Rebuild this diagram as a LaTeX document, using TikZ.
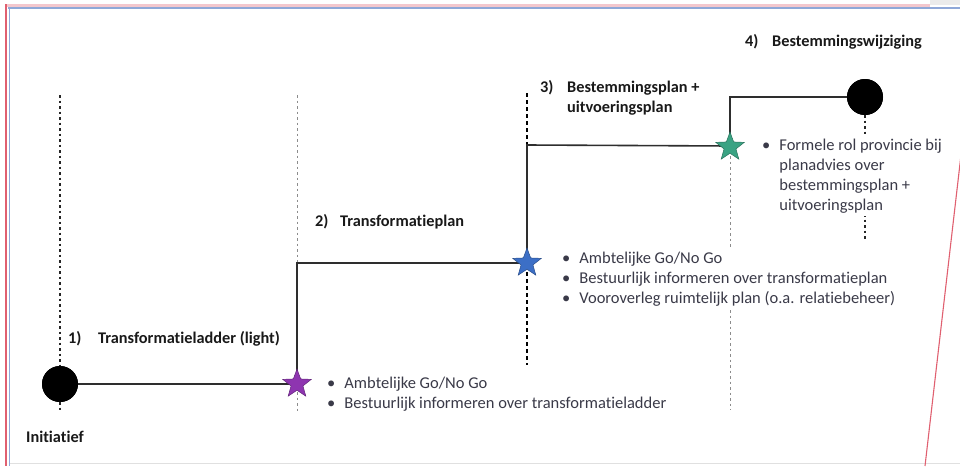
\documentclass[tikz,border=0pt]{standalone}
\usepackage{fontspec}
\setmainfont{Carlito}[Ligatures=NoCommon]
\usetikzlibrary{shapes.geometric}
\definecolor{bodytext}{HTML}{3A3A48}
\definecolor{stepline}{HTML}{2E2E2E}
\definecolor{starpurple}{HTML}{8E35B0}
\definecolor{starblue}{HTML}{3C6FC6}
\definecolor{stargreen}{HTML}{3AA383}
\definecolor{frameRed}{HTML}{E06070}
\definecolor{frameBlue}{HTML}{8FA8D8}
\tikzset{
  milestone/.style={circle,fill=black,minimum size=36pt,inner sep=0pt},
  gate/.style={star,star points=5,star point ratio=2.4,minimum size=30pt,inner sep=0pt,fill=#1,draw=#1!70!black,line width=0.5pt},
  stair/.style={draw=stepline,line width=1.6pt},
  guide/.style={line width=1.1pt,dash pattern=on 2.5pt off 3pt},
  phase/.style={anchor=base west,inner sep=0pt,font=\fontsize{16.3}{20}\selectfont\bfseries,text=black!90},
  notes/.style={anchor=base west,inner sep=0pt,font=\fontsize{16.5}{20}\selectfont,text=bodytext,fill=white},
}
\begin{document}
\begin{tikzpicture}[x=1pt,y=-1pt]
\useasboundingbox (0,0) rectangle (960,466);
\fill[white] (0,0) rectangle (960,466);

% page frame
\fill[black!8] (930,0) rectangle (960,5);
\fill[frameRed!35] (5,3.5) rectangle (930,6.5);
\draw[frameBlue,line width=1.3pt] (8,8) -- (960,8);
\draw[frameRed,line width=1.6pt] (6,4) -- (6,466);
\draw[frameBlue,line width=1.1pt] (9.5,8) -- (9.5,466);
\draw[black!12,line width=1pt] (9.5,463.5) -- (960,463.5);
\draw[frameRed,line width=1.1pt] (961,155) -- (925,466);

% vertical time markers
\coordinate (g1t) at (60,95);   \coordinate (g1b) at (60,412);
\coordinate (g2t) at (297,95);  \coordinate (g2b) at (297,412);
\coordinate (g3t) at (527,93);  \coordinate (g3b) at (527,365);
\coordinate (g4b) at (730,410);
\coordinate (g5b) at (865,240);

\node[milestone] (start) at (60,384) {};
\node[milestone] (finish) at (865,97) {};
\coordinate (c1) at (297,263);
\coordinate (c2) at (527,145);
\coordinate (c3) at (730,97);

\draw[guide,black!85] (g1t) -- (start.north);
\draw[guide,black!85] (start.south) -- (g1b);
\draw[guide,black!45,line width=1pt] (g2t) -- (c1);
\draw[guide,black!45,line width=1pt] (297,392) -- (g2b);
\draw[black,line width=1.3pt,dash pattern=on 4pt off 3pt] (g3t) -- (c2);
\draw[black,line width=1.3pt,dash pattern=on 4pt off 3pt] (527,272) -- (g3b);
\draw[guide,black!45,line width=1pt] (730,156) -- (g4b);
\draw[guide,black!85] (finish.south) -- (g5b);

% staircase of phases
\draw[stair] (start.center) -- (297,384) -- (c1) -- (527,263) -- (c2) -- (730,146) -- (c3) -- (finish.center);
\node[milestone] at (start) {};
\node[milestone] at (finish) {};

\node[gate=starpurple] (s1) at (297,384) {};
\node[gate=starblue] (s2) at (527,263) {};
\node[gate=stargreen] (s3) at (730,147) {};

% phase titles
\node[phase] (p1n) at (68,343) {1)};
\node[phase] (p1) at (98,343) {Transformatieladder (light)};
\node[phase] (p0) at (26,442) {Initiatief};
\node[phase] (p2n) at (315,226) {2)};
\node[phase] (p2) at (340,226) {Transformatieplan};
\node[phase] (p3n) at (540,92) {3)};
\node[phase] (p3) at (567,92) {\begin{tabular}[t]{@{}l@{}}Bestemmingsplan +\\uitvoeringsplan\end{tabular}};
\node[phase] (p4n) at (745,46) {4)};
\node[phase] (p4) at (772,46) {Bestemmingswijziging};

% notes per decision gate
\node[notes] (n1) at (327,388) {\begin{tabular}[t]{@{}l@{\hspace{9pt}}l@{}}
\textbullet & Ambtelijke Go/No Go\\
\textbullet & Bestuurlijk informeren over transformatieladder
\end{tabular}};
\node[notes] (n2) at (562,263) {\begin{tabular}[t]{@{}l@{\hspace{9pt}}l@{}}
\textbullet & Ambtelijke Go/No Go\\
\textbullet & Bestuurlijk informeren over transformatieplan\\
\textbullet & Vooroverleg ruimtelijk plan (o.a. relatiebeheer)
\end{tabular}};
\node[notes] (n3) at (762,150) {\begin{tabular}[t]{@{}l@{\hspace{9pt}}l@{}}
\textbullet & Formele rol provincie bij\\
 & planadvies over\\
 & bestemmingsplan +\\
 & uitvoeringsplan
\end{tabular}};
\end{tikzpicture}
\end{document}
